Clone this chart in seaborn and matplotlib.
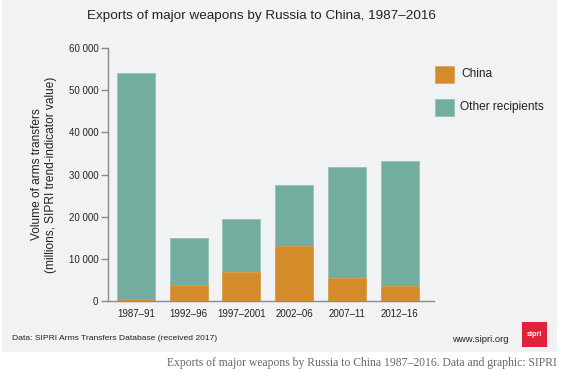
import matplotlib
matplotlib.use("Agg")
import matplotlib.pyplot as plt
import seaborn as sns
import pandas as pd
from matplotlib.patches import Rectangle

periods = ["1987–91", "1992–96", "1997–2001", "2002–06", "2007–11", "2012–16"]
china = [400, 3800, 7000, 13000, 5400, 3600]
other = [53600, 11100, 12500, 14500, 26300, 29500]
yticks = [0, 10000, 20000, 30000, 40000, 50000, 60000]
ytick_labels = ["0", "10 000", "20 000", "30 000", "40 000", "50 000", "60 000"]

TEAL = "#72ad9f"
ORANGE = "#d48c2a"
PANEL = "#f1f2f4"
AX = "#8a8a8a"
TXT = "#222222"

df = pd.DataFrame({"period": periods, "china": china, "other": other})
df["total"] = df["china"] + df["other"]

sns.set_theme(style="white")
plt.rcParams["font.family"] = ["Liberation Sans", "DejaVu Sans"]

fig = plt.figure(figsize=(5.61, 3.73), dpi=100)
fig.patch.set_facecolor("white")
fig.patches.append(Rectangle((0.0036, 0.0563), 0.9894, 0.9437, transform=fig.transFigure,
                             facecolor=PANEL, edgecolor="none", zorder=-10))

ax = fig.add_axes([0.1925, 0.193, 0.5811, 0.678])
ax.set_zorder(5)
ax.set_facecolor("none")
sns.barplot(data=df, x="period", y="total", color=TEAL, width=0.72, saturation=1,
            ax=ax, edgecolor="#8cc0b2", linewidth=0.5, zorder=2)
sns.barplot(data=df, x="period", y="china", color=ORANGE, width=0.72, saturation=1,
            ax=ax, edgecolor="#e0a04a", linewidth=0.5, zorder=3)

ax.set_xlim(-0.53, 5.65)
ax.set_ylim(0, 60000)
ax.set_yticks(yticks)
ax.set_yticklabels(ytick_labels)
ax.set_xlabel("")
ax.set_ylabel("Volume of arms transfers\n(millions, SIPRI trend-indicator value)",
              fontsize=8.6, color=TXT, labelpad=8, linespacing=1.25)
for s in ["top", "right"]:
    ax.spines[s].set_visible(False)
for s in ["left", "bottom"]:
    ax.spines[s].set_color(AX)
    ax.spines[s].set_linewidth(1.0)
ax.tick_params(axis="y", length=5, width=1, color=AX, labelsize=7, labelcolor=TXT, pad=2, left=True)
ax.tick_params(axis="x", length=0, labelsize=7, labelcolor=TXT, pad=6)

# legend
fig.patches.append(Rectangle((435/561, 1-83/373), 19/561, 17/373, transform=fig.transFigure,
                             facecolor=ORANGE, edgecolor="#e0a04a", lw=0.5))
fig.patches.append(Rectangle((435/561, 1-116/373), 19/561, 17/373, transform=fig.transFigure,
                             facecolor=TEAL, edgecolor="#8cc0b2", lw=0.5))
fig.text(461/561, 1-74/373, "China", fontsize=8.6, color=TXT, va="center", ha="left")
fig.text(460/561, 1-107/373, "Other recipients", fontsize=8.6, color=TXT, va="center", ha="left")

fig.text(261/561, 1-16/373, "Exports of major weapons by Russia to China, 1987–2016",
         fontsize=9.7, color=TXT, ha="center", va="center")
fig.text(12/561, 1-339/373, "Data: SIPRI Arms Transfers Database (received 2017)",
         fontsize=6.1, color=TXT, ha="left", va="center")
fig.text(509/561, 1-339/373, "www.sipri.org", fontsize=6.8, color=TXT, ha="right", va="center")
fig.patches.append(Rectangle((522/561, 1-347/373), 25/561, 25/373, transform=fig.transFigure,
                             facecolor="#e2223c", edgecolor="none"))
fig.text(534.5/561, 1-334.5/373, "sipri", fontsize=5.2, color="white", fontweight="bold",
         ha="center", va="center")
fig.text(557/561, 1-363/373, "Exports of major weapons by Russia to China 1987–2016. Data and graphic: SIPRI",
         fontsize=8.4, color="#666666", ha="right", va="center",
         family=["Liberation Serif", "DejaVu Serif"])

fig.savefig("out.png", dpi=100, facecolor="white")
